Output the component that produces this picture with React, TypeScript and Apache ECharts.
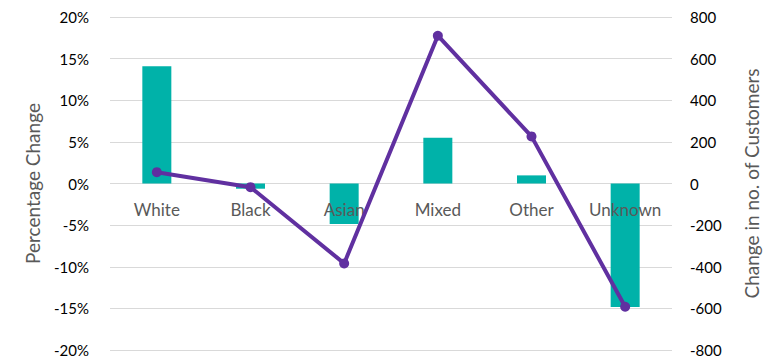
import React, { useEffect, useRef } from "react";
import * as echarts from "echarts";

const categories = ["White", "Black", "Asian", "Mixed", "Other", "Unknown"];
const customerChange = [563, -25, -195, 220, 39, -593];
const percentChange = [1.36, -0.44, -9.6, 17.75, 5.66, -14.8];
const leftTicks = { min: -20, max: 20, interval: 5 };
const rightTicks = { min: -800, max: 800, interval: 200 };

const FONT = "Lato, 'Open Sans', sans-serif";
const GRID_TOP = 17;
const GRID_BOTTOM = 14;
const HEIGHT = 364;

export default function App() {
  const ref = useRef<HTMLDivElement>(null);
  useEffect(() => {
    document.body.style.margin = "0";
    const chart = echarts.init(ref.current!, null, { renderer: "svg" });
    const gridH = HEIGHT - GRID_TOP - GRID_BOTTOM;
    chart.setOption({
      animation: false,
      textStyle: { fontFamily: FONT },
      grid: { left: 110, right: 104, top: GRID_TOP, bottom: GRID_BOTTOM, outerBoundsMode: "none", containLabel: false },
      xAxis: {
        type: "category",
        data: categories,
        z: 5,
        position: "bottom",
        offset: -gridH / 2,
        axisLine: { show: false, onZero: false },
        axisTick: { show: false },
        axisLabel: { color: "#595959", fontSize: 17, margin: 17, interval: 0, hideOverlap: false, fontFamily: FONT },
      },
      yAxis: [
        {
          type: "value",
          min: leftTicks.min,
          max: leftTicks.max,
          interval: leftTicks.interval,
          name: "Percentage Change",
          nameLocation: "middle",
          nameGap: 68,
          nameRotate: 90,
          nameTextStyle: { color: "#595959", fontSize: 19, fontFamily: FONT },
          axisLine: { show: false },
          axisTick: { show: false },
          axisLabel: { color: "#000", fontSize: 15, margin: 21, formatter: (v: number) => `${v}%`, fontFamily: FONT },
          splitLine: { lineStyle: { color: "#d9d9d9", width: 1 } },
        },
        {
          type: "value",
          position: "right",
          min: rightTicks.min,
          max: rightTicks.max,
          interval: rightTicks.interval,
          name: "Change in no. of Customers",
          nameLocation: "middle",
          nameGap: 70,
          nameRotate: 90,
          nameTextStyle: { color: "#595959", fontSize: 19, fontFamily: FONT },
          axisLine: { show: false },
          axisTick: { show: false },
          axisLabel: { color: "#000", fontSize: 15, margin: 18, fontFamily: FONT },
          splitLine: { show: false },
        },
      ],
      series: [
        {
          type: "bar",
          yAxisIndex: 1,
          data: customerChange,
          barWidth: 29,
          itemStyle: { color: "#00B2A9" },
          z: 2,
        },
        {
          type: "line",
          yAxisIndex: 0,
          data: percentChange,
          symbol: "circle",
          symbolSize: 10,
          lineStyle: { color: "#6030A0", width: 4 },
          itemStyle: { color: "#6030A0" },
          z: 6,
        },
      ],
    });
    return () => chart.dispose();
  }, []);
  return <div ref={ref} style={{ width: 776, height: 364 }} />;
}
